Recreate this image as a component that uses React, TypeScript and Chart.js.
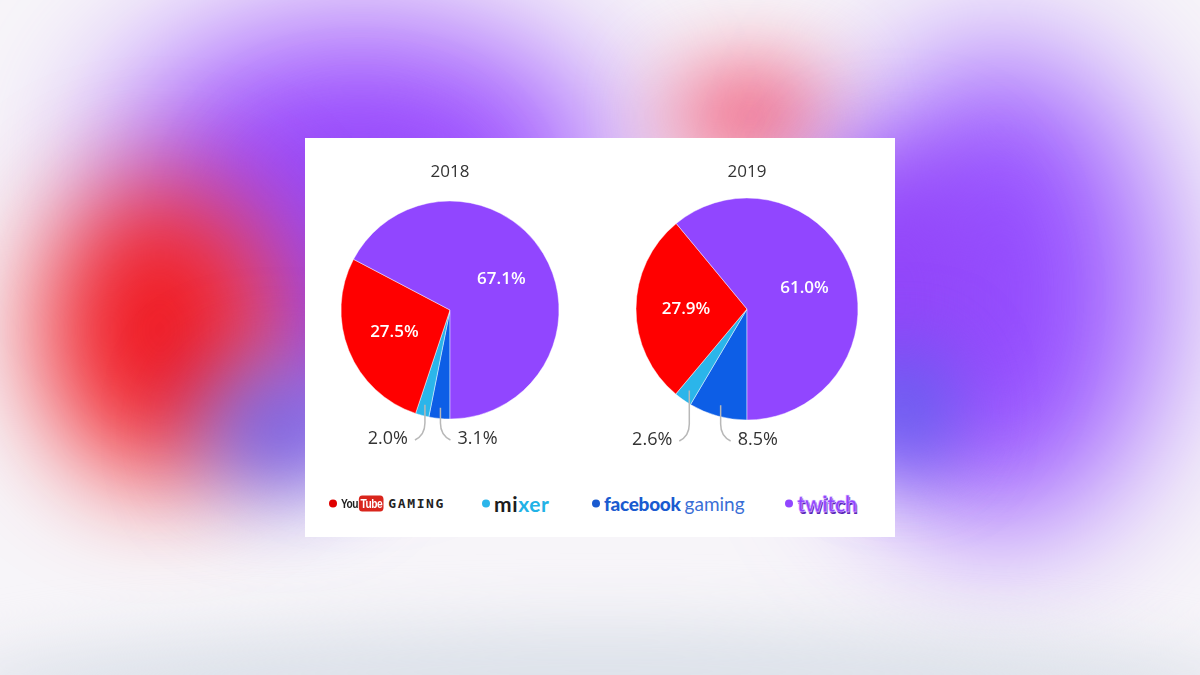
import React, { useEffect, useRef } from "react";
import { Chart, registerables } from "chart.js";

Chart.register(...registerables);

// ---- data ----
const platforms = ["Facebook Gaming", "Mixer", "YouTube Gaming", "Twitch"];
const platformColors = ["#0d5ee6", "#2bb5ea", "#ff0000", "#9146ff"];
const years = ["2018", "2019"];
const share2018 = [3.1, 2.0, 27.5, 67.1];
const share2019 = [8.5, 2.6, 27.9, 61.0];

const FONT = "'Open Sans', 'Noto Sans', sans-serif";

const pieLabelsPlugin = {
  id: "pieLabels",
  afterDatasetsDraw(chart: any) {
    const ctx = chart.ctx as CanvasRenderingContext2D;
    const meta = chart.getDatasetMeta(0);
    const values = chart.data.datasets[0].data as number[];
    const sides: Record<number, number> = { 0: 1, 1: -1 };
    ctx.save();
    meta.data.forEach((arc: any, i: number) => {
      const { x, y, startAngle, endAngle, outerRadius } = arc.getProps(
        ["x", "y", "startAngle", "endAngle", "outerRadius"],
        true
      );
      const mid = (startAngle + endAngle) / 2;
      const v = values[i];
      const text = v.toFixed(1) + "%";
      if (v >= 10) {
        const r = outerRadius * 0.55;
        ctx.fillStyle = "#ffffff";
        ctx.font = `600 17px ${FONT}`;
        ctx.textAlign = "center";
        ctx.textBaseline = "middle";
        ctx.fillText(text, x + Math.cos(mid) * r, y + Math.sin(mid) * r);
      } else {
        const dir = sides[i] ?? 1;
        const r = outerRadius * 0.9;
        const sx = x + Math.cos(mid) * r;
        const sy = y + Math.sin(mid) * r;
        const ly = y + outerRadius + 20;
        ctx.strokeStyle = "#b8b8b8";
        ctx.lineWidth = 1.5;
        ctx.beginPath();
        ctx.moveTo(sx, sy);
        ctx.lineTo(sx, ly - 16);
        ctx.quadraticCurveTo(sx, ly - 4, sx + dir * 10, ly + 1);
        ctx.stroke();
        ctx.fillStyle = "#333333";
        ctx.font = `400 18px ${FONT}`;
        ctx.textAlign = dir > 0 ? "left" : "right";
        ctx.textBaseline = "middle";
        ctx.fillText(text, sx + dir * 17, ly);
      }
    });
    ctx.restore();
  },
};

function PieCanvas({
  year,
  values,
  left,
  top,
  radius,
  padBottom,
}: {
  year: string;
  values: number[];
  left: number;
  top: number;
  radius: number;
  padBottom: number;
}) {
  const ref = useRef<HTMLCanvasElement | null>(null);
  useEffect(() => {
    if (!ref.current) return;
    const chart = new Chart(ref.current, {
      type: "pie",
      data: {
        labels: platforms,
        datasets: [
          {
            data: values,
            backgroundColor: platformColors,
            borderColor: "rgba(255,255,255,0.45)",
            borderWidth: 1,
          },
        ],
      },
      options: {
        responsive: false,
        animation: false,
        events: [],
        rotation: 180,
        radius: radius,
        layout: { padding: { top: 0, bottom: padBottom, left: 0, right: 0 } },
        plugins: {
          legend: { display: false },
          tooltip: { enabled: false },
          title: {
            display: true,
            text: year,
            color: "#333333",
            font: { family: FONT, size: 17, weight: "500" as any },
            padding: { top: 12, bottom: 8 },
          },
        },
      },
      plugins: [pieLabelsPlugin],
    });
    return () => chart.destroy();
  }, []);
  return (
    <canvas
      ref={ref}
      width={300}
      height={310}
      style={{ position: "absolute", left, top, width: 300, height: 310 }}
    />
  );
}

const blobs = [
  { l: 110, t: 20, w: 500, h: 290, c: "#9a4cff", b: 70 },
  { l: 250, t: 140, w: 220, h: 300, c: "#9448f5", b: 50 },
  { l: 40, t: 180, w: 240, h: 300, c: "#f01c24", b: 55 },
  { l: 200, t: 370, w: 160, h: 120, c: "#6a5ae8", b: 45 },
  { l: 670, t: 70, w: 160, h: 90, c: "#f04468", b: 45 },
  { l: 840, t: 50, w: 320, h: 480, c: "#9650ff", b: 70 },
  { l: 800, t: 150, w: 200, h: 300, c: "#9246fa", b: 45 },
  { l: 860, t: 350, w: 90, h: 120, c: "#5b62ec", b: 40 },
  { l: -50, t: 625, w: 1300, h: 120, c: "#dde2ea", b: 30 },
];

function Dot({ color }: { color: string }) {
  return (
    <span
      style={{
        display: "inline-block",
        width: 8,
        height: 8,
        borderRadius: 4,
        background: color,
        marginRight: 4,
      }}
    />
  );
}

export default function App() {
  const item = (left: number): React.CSSProperties => ({
    position: "absolute",
    left,
    top: 365,
    transform: "translateY(-50%)",
    display: "flex",
    alignItems: "center",
    whiteSpace: "nowrap",
  });
  return (
    <div
      style={{
        position: "fixed",
        left: 0,
        top: 0,
        width: 1200,
        height: 675,
        overflow: "hidden",
        background: "#f7f5f9",
        fontFamily: FONT,
      }}
    >
      {blobs.map((b, i) => (
        <div
          key={i}
          style={{
            position: "absolute",
            left: b.l,
            top: b.t,
            width: b.w,
            height: b.h,
            borderRadius: "50%",
            background: b.c,
            filter: `blur(${b.b}px)`,
          }}
        />
      ))}
      <div
        style={{
          position: "absolute",
          left: 305,
          top: 138,
          width: 590,
          height: 399,
          background: "#ffffff",
        }}
      >
        <div style={item(24)}>
          <Dot color="#e00000" />
          <span
            style={{
              fontFamily: "'Liberation Sans', Arial, sans-serif",
              fontSize: 12,
              fontWeight: 700,
              color: "#222",
              letterSpacing: -0.6,
              display: "inline-block",
              transform: "scaleX(0.85)",
              transformOrigin: "left center",
            }}
          >
            You
            <span
              style={{
                background: "#d9251c",
                color: "#fff",
                borderRadius: 4,
                padding: "1px 2px",
                marginLeft: 1,
              }}
            >
              Tube
            </span>
          </span>
          <span
            style={{
              fontFamily: "'DejaVu Sans Mono', monospace",
              fontWeight: 700,
              fontSize: 13,
              letterSpacing: 1.6,
              color: "#222",
              marginLeft: -3,
            }}
          >
            GAMING
          </span>
        </div>
        <div style={item(177)}>
          <Dot color="#2bb5ea" />
          <span style={{ fontFamily: "Lato, sans-serif", fontSize: 21, fontWeight: 700, letterSpacing: 0.6 }}>
            <span style={{ color: "#1d1d1d" }}>mi</span>
            <span style={{ color: "#22b2e6" }}>xer</span>
          </span>
        </div>
        <div style={item(287)}>
          <Dot color="#1a5bd0" />
          <span style={{ fontFamily: "Lato, sans-serif", fontSize: 19, fontWeight: 900, color: "#1a5bd0", letterSpacing: -0.3 }}>
            facebook
          </span>
          <span style={{ fontFamily: "Lato, sans-serif", fontSize: 19, fontWeight: 400, color: "#3a6fd6", marginLeft: 4 }}>
            gaming
          </span>
        </div>
        <div style={item(480)}>
          <Dot color="#9146ff" />
          <span
            style={{
              fontFamily: "Lato, sans-serif",
              fontSize: 22,
              fontWeight: 900,
              color: "#9146ff",
              WebkitTextStroke: "0.5px #e8dcff",
              textShadow: "1px 2px 0 #5a25b8",
              letterSpacing: -0.6,
            }}
          >
            twitch
          </span>
        </div>
      </div>
      <PieCanvas year={years[0]} values={share2018} left={300} top={150} radius={109} padBottom={30.4} />
      <PieCanvas year={years[1]} values={share2019} left={597} top={150} radius={111} padBottom={32.4} />
    </div>
  );
}
